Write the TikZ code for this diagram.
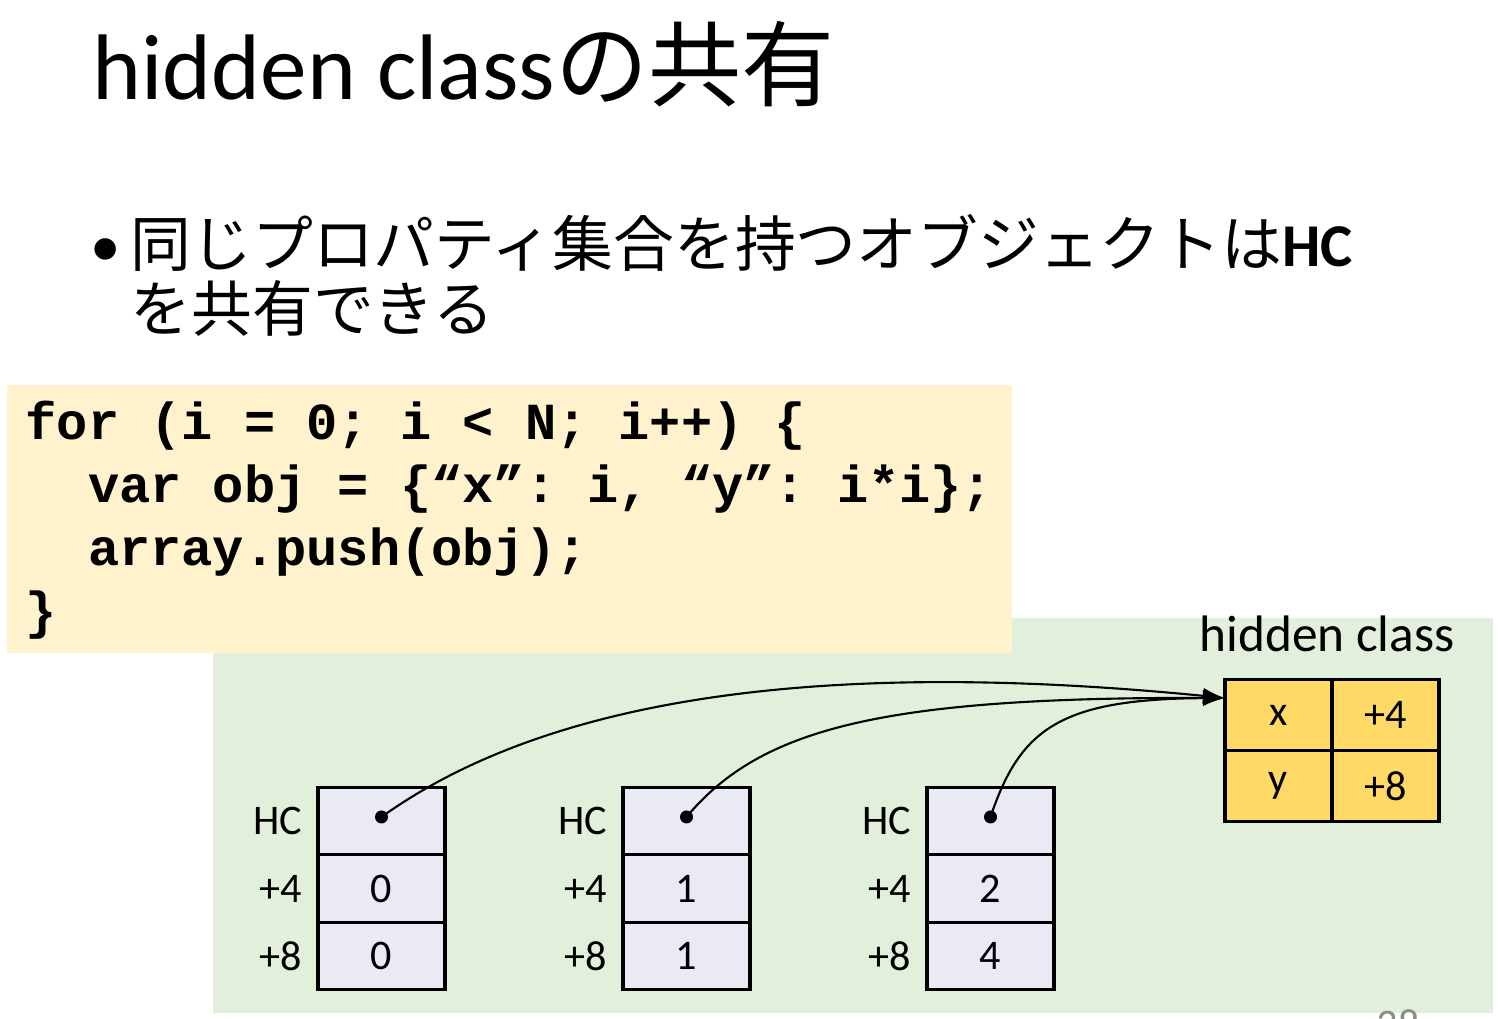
\documentclass[tikz,border=0pt]{standalone}
\usepackage{fontspec}
\setmainfont{Carlito}
\setmonofont{Liberation Mono}
\newfontfamily\cjk{Noto Sans CJK JP}
\usetikzlibrary{positioning, calc, arrows.meta}
\definecolor{codebg}{HTML}{FFF2CC}
\definecolor{heapbg}{HTML}{E2EFDA}
\definecolor{objfill}{HTML}{EAEAF5}
\definecolor{hcfill}{HTML}{FFD966}
\definecolor{pagegray}{HTML}{8C8C8C}
\tikzset{
	objcell/.style = {draw, line width=0.9pt, fill=objfill, minimum width=1.27cm,
		minimum height=0.675cm, inner sep=0pt, outer sep=0pt,
		font=\fontsize{12}{14}\selectfont},
	hccell/.style = {draw, line width=0.9pt, fill=hcfill, minimum width=1.07cm,
		minimum height=0.71cm, inner sep=0pt, outer sep=0pt,
		font=\fontsize{12}{14}\selectfont},
	offlabel/.style = {inner sep=0pt, font=\fontsize{12}{14}\selectfont},
	codeline/.style = {anchor=base west, inner sep=0pt,
		font=\ttfamily\bfseries\fontsize{14.8}{18}\selectfont},
	bodytext/.style = {anchor=base west, inner sep=0pt,
		font=\fontsize{17.3}{19}\selectfont},
	dot/.style = {circle, fill, inner sep=0pt, minimum size=0.13cm},
	ptr/.style = {line width=0.6pt, -{Latex[length=2.2mm, width=1.6mm]}}
}

\begin{document}
\begin{tikzpicture}
		\useasboundingbox (0,0) rectangle (15,10.19);
		% title and bullet
		\node[anchor=base west, inner sep=0pt, font=\fontsize{26.5}{30}\selectfont]
			(title) at (0.92,9.19) {hidden class{\cjk の共有}};
		\node[bodytext] (bullet) at (0.90,7.52) {•};
		\node[bodytext] (point1) at (1.30,7.52) {{\cjk 同じプロパティ集合を持つオブジェクトは}\textbf{HC}};
		\node[bodytext] (point2) at (1.30,6.87) {{\cjk を共有できる}};
		% heap and code panels
		\fill[heapbg] (2.13,0.06) rectangle (14.93,4.01);
		\fill[codebg] (0.07,3.66) rectangle (10.12,6.34);
		\node[codeline] (code1) at (0.25,5.79) {for (i = 0; i < N; i++) \{};
		\node[codeline] (code2) at (0.25,5.16) {~~var obj = \{“x”: i, “y”: i*i\};};
		\node[codeline] (code3) at (0.25,4.53) {~~array.push(obj);};
		\node[codeline] (code4) at (0.25,3.90) {\}};
		% hidden class table
		\node[anchor=base, inner sep=0pt, font=\fontsize{14.6}{17}\selectfont]
			(hclabel) at (13.27,3.67) {hidden class};
		\node[hccell] (hx) at (12.785,3.04) {x};
		\node[hccell, right=0pt of hx] (hxo) {+4};
		\node[hccell, below=0pt of hx] (hy) {y};
		\node[hccell, right=0pt of hy] (hyo) {+8};
		\coordinate (hcin) at ($(hx.west)+(0,0.17)$);
		% objects
		\foreach \i/\xc/\a/\b in {0/3.815/0/0, 1/6.865/1/1, 2/9.905/2/4} {
			\node[objcell] (hc\i) at (\xc,1.98) {};
			\node[objcell, below=0pt of hc\i] (px\i) {\a};
			\node[objcell, below=0pt of px\i] (py\i) {\b};
			\node[offlabel, left=0.15cm of hc\i] (lhc\i) {HC};
			\node[offlabel, left=0.15cm of px\i] (lpx\i) {+4};
			\node[offlabel, left=0.15cm of py\i] (lpy\i) {+8};
			\node[dot] (d\i) at ($(hc\i.center)+(0,0.04)$) {};
		}
		% pointers to the shared hidden class
		\draw[ptr] (d0.center) .. controls (5.6,3.3) and (8.5,3.58) .. (hcin);
		\draw[ptr] (d1.center) .. controls (7.6,2.9) and (8.8,3.22) .. (hcin);
		\draw[ptr] (d2.center) .. controls (10.2,2.9) and (10.6,3.2) .. (hcin);
		% page number
		\node[anchor=north, inner sep=0pt, text=pagegray, font=\fontsize{12}{14}\selectfont]
			(pagenum) at (13.98,0.10) {38};
\end{tikzpicture}
\end{document}
